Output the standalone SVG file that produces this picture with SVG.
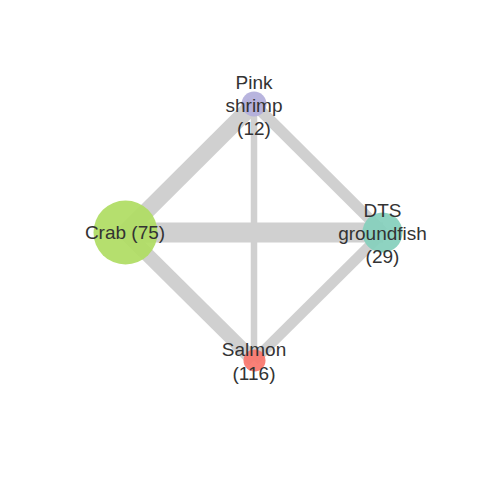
<svg xmlns="http://www.w3.org/2000/svg" width="480" height="480" viewBox="0 0 480 480">
<style>
.e{stroke:#d0d0d0;fill:none;stroke-linecap:butt}
.n{opacity:0.92}
.t{font-family:"Liberation Sans",Arial,sans-serif;font-size:19px;fill:#333;text-anchor:middle}
</style>
<rect width="480" height="480" fill="#fff"/>
<g id="edges">
<line class="e" x1="125" y1="232.5" x2="254" y2="104" stroke-width="16.5"/>
<line class="e" x1="125" y1="232.5" x2="383" y2="232.5" stroke-width="20"/>
<line class="e" x1="125" y1="232.5" x2="254" y2="360.5" stroke-width="14"/>
<line class="e" x1="254" y1="104" x2="383" y2="232.5" stroke-width="11"/>
<line class="e" x1="254" y1="104" x2="254" y2="360.5" stroke-width="6.5"/>
<line class="e" x1="383" y1="232.5" x2="254" y2="360.5" stroke-width="10.5"/>
</g>
<g id="crab">
<circle class="n" cx="125.5" cy="232.5" r="32" fill="#afdc62"/>
<text class="t" x="125" y="238.5">Crab (75)</text>
</g>
<g id="pink-shrimp">
<circle class="n" cx="254" cy="104" r="12.5" fill="#b2aedb"/>
<text class="t" x="254" y="88.5">Pink</text>
<text class="t" x="254" y="111.5">shrimp</text>
<text class="t" x="254" y="134.5">(12)</text>
</g>
<g id="dts-groundfish">
<circle class="n" cx="382.5" cy="232.5" r="20" fill="#84cfbc"/>
<text class="t" x="382.5" y="216.5">DTS</text>
<text class="t" x="382.5" y="240">groundfish</text>
<text class="t" x="382.5" y="263">(29)</text>
</g>
<g id="salmon">
<circle class="n" cx="254.5" cy="360.5" r="11" fill="#f8756b"/>
<text class="t" x="254" y="356">Salmon</text>
<text class="t" x="254" y="380">(116)</text>
</g>
</svg>
